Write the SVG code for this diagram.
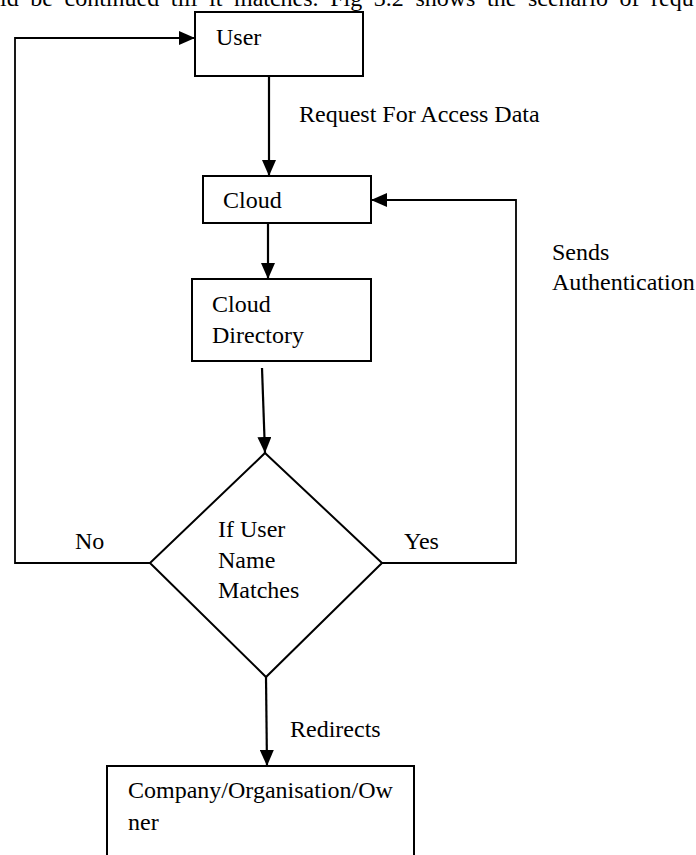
<svg xmlns="http://www.w3.org/2000/svg" width="696" height="855" viewBox="0 0 696 855">
<style>
text{font-family:"Liberation Serif","Times New Roman",serif;font-size:24px;fill:#000}
.box{fill:#fff;stroke:#000;stroke-width:2}
.conn{fill:none;stroke:#000;stroke-width:2.2}
.loop{fill:none;stroke:#000;stroke-width:1.8}
</style>
<defs>
<marker id="arr" markerUnits="userSpaceOnUse" markerWidth="18" markerHeight="14" refX="16" refY="7" orient="auto">
<path d="M0,0 L16,7 L0,14 Z" fill="#000"/>
</marker>
</defs>
<rect width="696" height="855" fill="#fff"/>
<text x="0" y="6" word-spacing="5.6">ld be continued till it matches. Fig 3.2 shows the scenario of requ</text>
<g id="connectors">
<line class="conn" x1="269" y1="76" x2="269" y2="176" marker-end="url(#arr)"/>
<line class="conn" x1="268" y1="224" x2="268" y2="279" marker-end="url(#arr)"/>
<line class="conn" x1="262" y1="368" x2="265" y2="453" marker-end="url(#arr)"/>
<line class="conn" x1="266" y1="677" x2="267" y2="766" marker-end="url(#arr)"/>
<polyline class="loop" points="150,563 15,563 15,38 195,38" marker-end="url(#arr)"/>
<polyline class="loop" points="382,563 516,563 516,200 371,200" marker-end="url(#arr)"/>
<text x="299" y="122">Request For Access Data</text>
<text x="552" y="260">Sends</text>
<text x="552" y="290">Authentication</text>
<text x="75" y="549">No</text>
<text x="404" y="549">Yes</text>
<text x="290" y="737">Redirects</text>
</g>
<g id="user">
<rect class="box" x="195" y="12" width="168" height="64"/>
<text x="216" y="45">User</text>
</g>
<g id="cloud">
<rect class="box" x="203" y="176" width="168" height="47"/>
<text x="223" y="208">Cloud</text>
</g>
<g id="cloud-directory">
<rect class="box" x="192" y="279" width="179" height="82"/>
<text x="212" y="312">Cloud</text>
<text x="212" y="343">Directory</text>
</g>
<g id="decision">
<polygon class="box" points="265,453 382,563 266,677 150,563"/>
<text x="218" y="537">If User</text>
<text x="218" y="568">Name</text>
<text x="218" y="598">Matches</text>
</g>
<g id="company">
<rect class="box" x="107" y="766" width="307" height="110"/>
<text x="128" y="798">Company/Organisation/Ow</text>
<text x="128" y="830">ner</text>
</g>
</svg>
